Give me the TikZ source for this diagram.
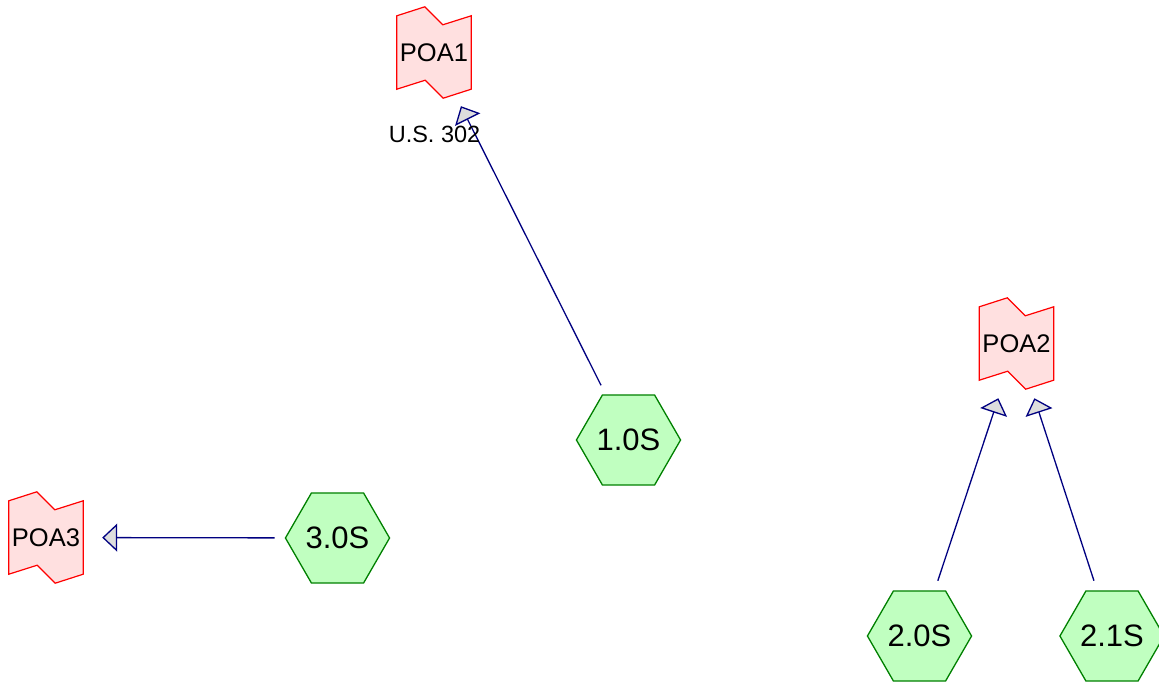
\documentclass[tikz,border=0pt]{standalone}
\usepackage{fontspec}
\setmainfont{Liberation Sans}
\usetikzlibrary{shapes.geometric,arrows.meta,backgrounds}

\definecolor{hexfill}{HTML}{C0FFC0}
\definecolor{hexline}{HTML}{008000}
\definecolor{flagfill}{HTML}{FFE0E0}
\definecolor{flagline}{HTML}{FF0000}
\definecolor{linkcol}{HTML}{000080}
\definecolor{tipfill}{HTML}{DDDDDD}

\begin{document}
\begin{tikzpicture}[x=1pt,y=-1pt,
  station/.style={regular polygon, regular polygon sides=6, minimum size=97.5pt,
    inner sep=0pt, draw=hexline, fill=hexfill, line width=1.3pt,
    font=\fontsize{31}{36}\selectfont},
  poa/.style={rectangle, minimum width=74pt, minimum height=73pt, inner sep=0pt,
    font=\fontsize{25.5}{30}\selectfont},
  flagshape/.style={draw=flagline, fill=flagfill, line width=1.2pt, line join=miter},
  link/.style={draw=linkcol, line width=1.3pt, shorten <=10pt, shorten >=19pt,
    -{Triangle[length=15pt,width=28pt,fill=tipfill]}},
  roadlabel/.style={inner sep=0pt, font=\fontsize{23.5}{28}\selectfont},
]
\useasboundingbox (0,0) rectangle (1159,687);

% points of access
\node[poa] (poa1) at (434,52.5)   {POA1};
\node[poa] (poa2) at (1016.5,343.5) {POA2};
\node[poa] (poa3) at (46,537.5)   {POA3};

% notched flag outlines behind the POA labels
\begin{scope}[on background layer]
  \foreach \p in {poa1,poa2,poa3}{
    \path[flagshape] (\p.north west) -- ++(28,-9) -- ++(18,18) -- (\p.north east)
      -- (\p.south east) -- ++(-28,9) -- ++(-18,-18) -- (\p.south west) -- cycle;
  }
\end{scope}

% stations
\node[station] (s10) at (628.5,440) {1.0S};
\node[station] (s20) at (919.5,636) {2.0S};
\node[station] (s21) at (1112,636)  {2.1S};
\node[station] (s30) at (337.5,538) {3.0S};

% links
\draw[link] (s10) -- (poa1);
\draw[link] (s20) -- (poa2);
\draw[link] (s21) -- (poa2);
\draw[link] (s30) -- (poa3);

\node[roadlabel] (road1) at (434.5,134) {U.S. 302};
\end{tikzpicture}
\end{document}
